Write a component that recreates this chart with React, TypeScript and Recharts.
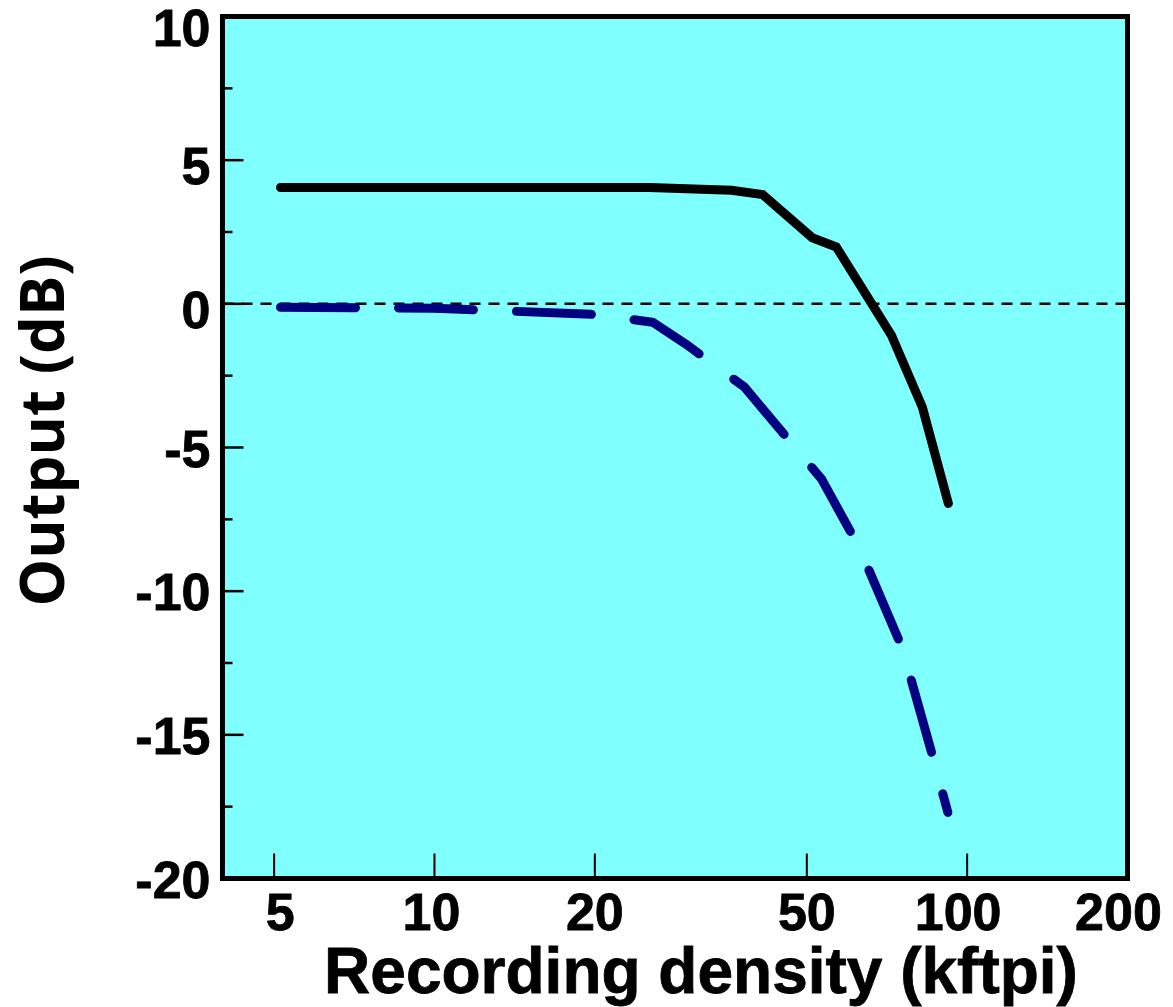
import React from 'react';
import { LineChart, Line, XAxis, YAxis, CartesianGrid, ReferenceLine, Label } from 'recharts';

// ---- data ----
const densityTicks = [5, 10, 20, 50, 100, 200];
const outputTicks = [-20, -17.5, -15, -12.5, -10, -7.5, -5, -2.5, 0, 2.5, 5, 7.5, 10];

const densityBlack = [5.14, 25.3, 36.1, 41.3, 51.2, 56.8, 72.1, 82.4, 92.2];
const outputBlack = [4.05, 4.05, 3.95, 3.8, 2.3, 1.98, -1.1, -3.6, -6.95];

const densityBlue = [5.14, 10, 20, 25.7, 29.8, 38.2, 53.3, 62.8, 75.6, 85.7, 92.0];
const outputBlue = [-0.12, -0.15, -0.37, -0.64, -1.43, -2.9, -6.1, -8.5, -12.0, -15.6, -17.7];

const blackData = densityBlack.map((x, i) => ({ x, y: outputBlack[i] }));
const blueData = densityBlue.map((x, i) => ({ x, y: outputBlue[i] }));

const FONT = '"Liberation Sans", Arial, sans-serif';

const XTick = (props: any) => {
  const { x, y, payload } = props;
  const v = payload.value;
  const dx = v === 5 ? 6 : v >= 100 ? -9 : v === 10 ? -3 : 0;
  return (
    <g>
      <line x1={x} x2={x} y1={y} y2={y - 25} stroke="#000" strokeWidth={2} />
      <text
        x={x + dx}
        y={y + 51}
        textAnchor="middle"
        fontFamily={FONT}
        fontWeight="bold"
        fontSize={52}
        fill="#000"
        stroke="#000"
        strokeWidth={0.8}
      >
        {v}
      </text>
    </g>
  );
};

const YTick = (props: any) => {
  const { x, y, payload } = props;
  const v = payload.value;
  const major = v % 5 === 0;
  const dy = v === 10 ? 10 : v >= 0 ? 5 : 0;
  return (
    <g>
      <line x1={x} x2={x + (major ? 21 : 10)} y1={y} y2={y} stroke="#000" strokeWidth={2.5} />
      {major && (
        <text
          x={x - 12}
          y={y + 19 + dy}
          textAnchor="end"
          fontFamily={FONT}
          fontWeight="bold"
          fontSize={52}
          fill="#000"
          stroke="#000"
          strokeWidth={0.8}
        >
          {v}
        </text>
      )}
    </g>
  );
};

const frameLine = { stroke: '#000', strokeWidth: 5, strokeLinecap: 'square' as const };

export default function App() {
  return (
    <div style={{ position: 'absolute', left: 0, top: 0, width: 1173, height: 1007, background: '#fff' }}>
      <LineChart width={1173} height={1007} margin={{ top: 6.5, right: 35.5, bottom: 78.5, left: 122.5 }}>
        <CartesianGrid horizontal={false} vertical={false} fill="#80FFFF" fillOpacity={1} />
        <XAxis
          xAxisId={0}
          dataKey="x"
          type="number"
          scale="log"
          domain={[4, 200]}
          ticks={densityTicks}
          interval={0}
          allowDataOverflow
          tickSize={0}
          tickMargin={0}
          tickLine={false}
          tick={XTick}
          axisLine={frameLine}
          height={50}
        >
          <Label
            content={() => (
              <text
                x={701}
                y={993}
                textAnchor="middle"
                fontFamily={FONT}
                fontWeight="bold"
                fontSize={64}
                fill="#000"
                stroke="#000"
                strokeWidth={0.8}
              >
                Recording density (kftpi)
              </text>
            )}
          />
        </XAxis>
        <XAxis
          xAxisId="top"
          orientation="top"
          dataKey="x"
          type="number"
          scale="log"
          domain={[4, 200]}
          allowDataOverflow
          tick={false}
          tickLine={false}
          axisLine={frameLine}
          height={10}
        />
        <YAxis
          yAxisId={0}
          type="number"
          domain={[-20, 10]}
          ticks={outputTicks}
          interval={0}
          allowDataOverflow
          tickSize={0}
          tickMargin={0}
          tickLine={false}
          tick={YTick}
          axisLine={frameLine}
          width={100}
        >
          <Label
            content={() => (
              <text
                x={64}
                y={431}
                transform="rotate(-90, 64, 431)"
                textAnchor="middle"
                fontFamily='"Open Sans", "Noto Sans", sans-serif'
                fontWeight={700}
                fontSize={60}
                fill="#000"
              >
                Output (dB)
              </text>
            )}
          />
        </YAxis>
        <YAxis
          yAxisId="right"
          orientation="right"
          type="number"
          domain={[-20, 10]}
          allowDataOverflow
          tick={false}
          tickLine={false}
          axisLine={frameLine}
          width={10}
        />
        <ReferenceLine y={0} stroke="#000" strokeWidth={2.5} strokeDasharray="11 8" />
        <Line
          data={blueData}
          dataKey="y"
          type="linear"
          stroke="#000080"
          strokeWidth={9}
          strokeDasharray="75 43"
          strokeLinecap="round"
          dot={false}
          activeDot={false}
          isAnimationActive={false}
        />
        <Line
          data={blackData}
          dataKey="y"
          type="linear"
          stroke="#000"
          strokeWidth={9}
          strokeLinecap="round"
          dot={false}
          activeDot={false}
          isAnimationActive={false}
        />
      </LineChart>
    </div>
  );
}
